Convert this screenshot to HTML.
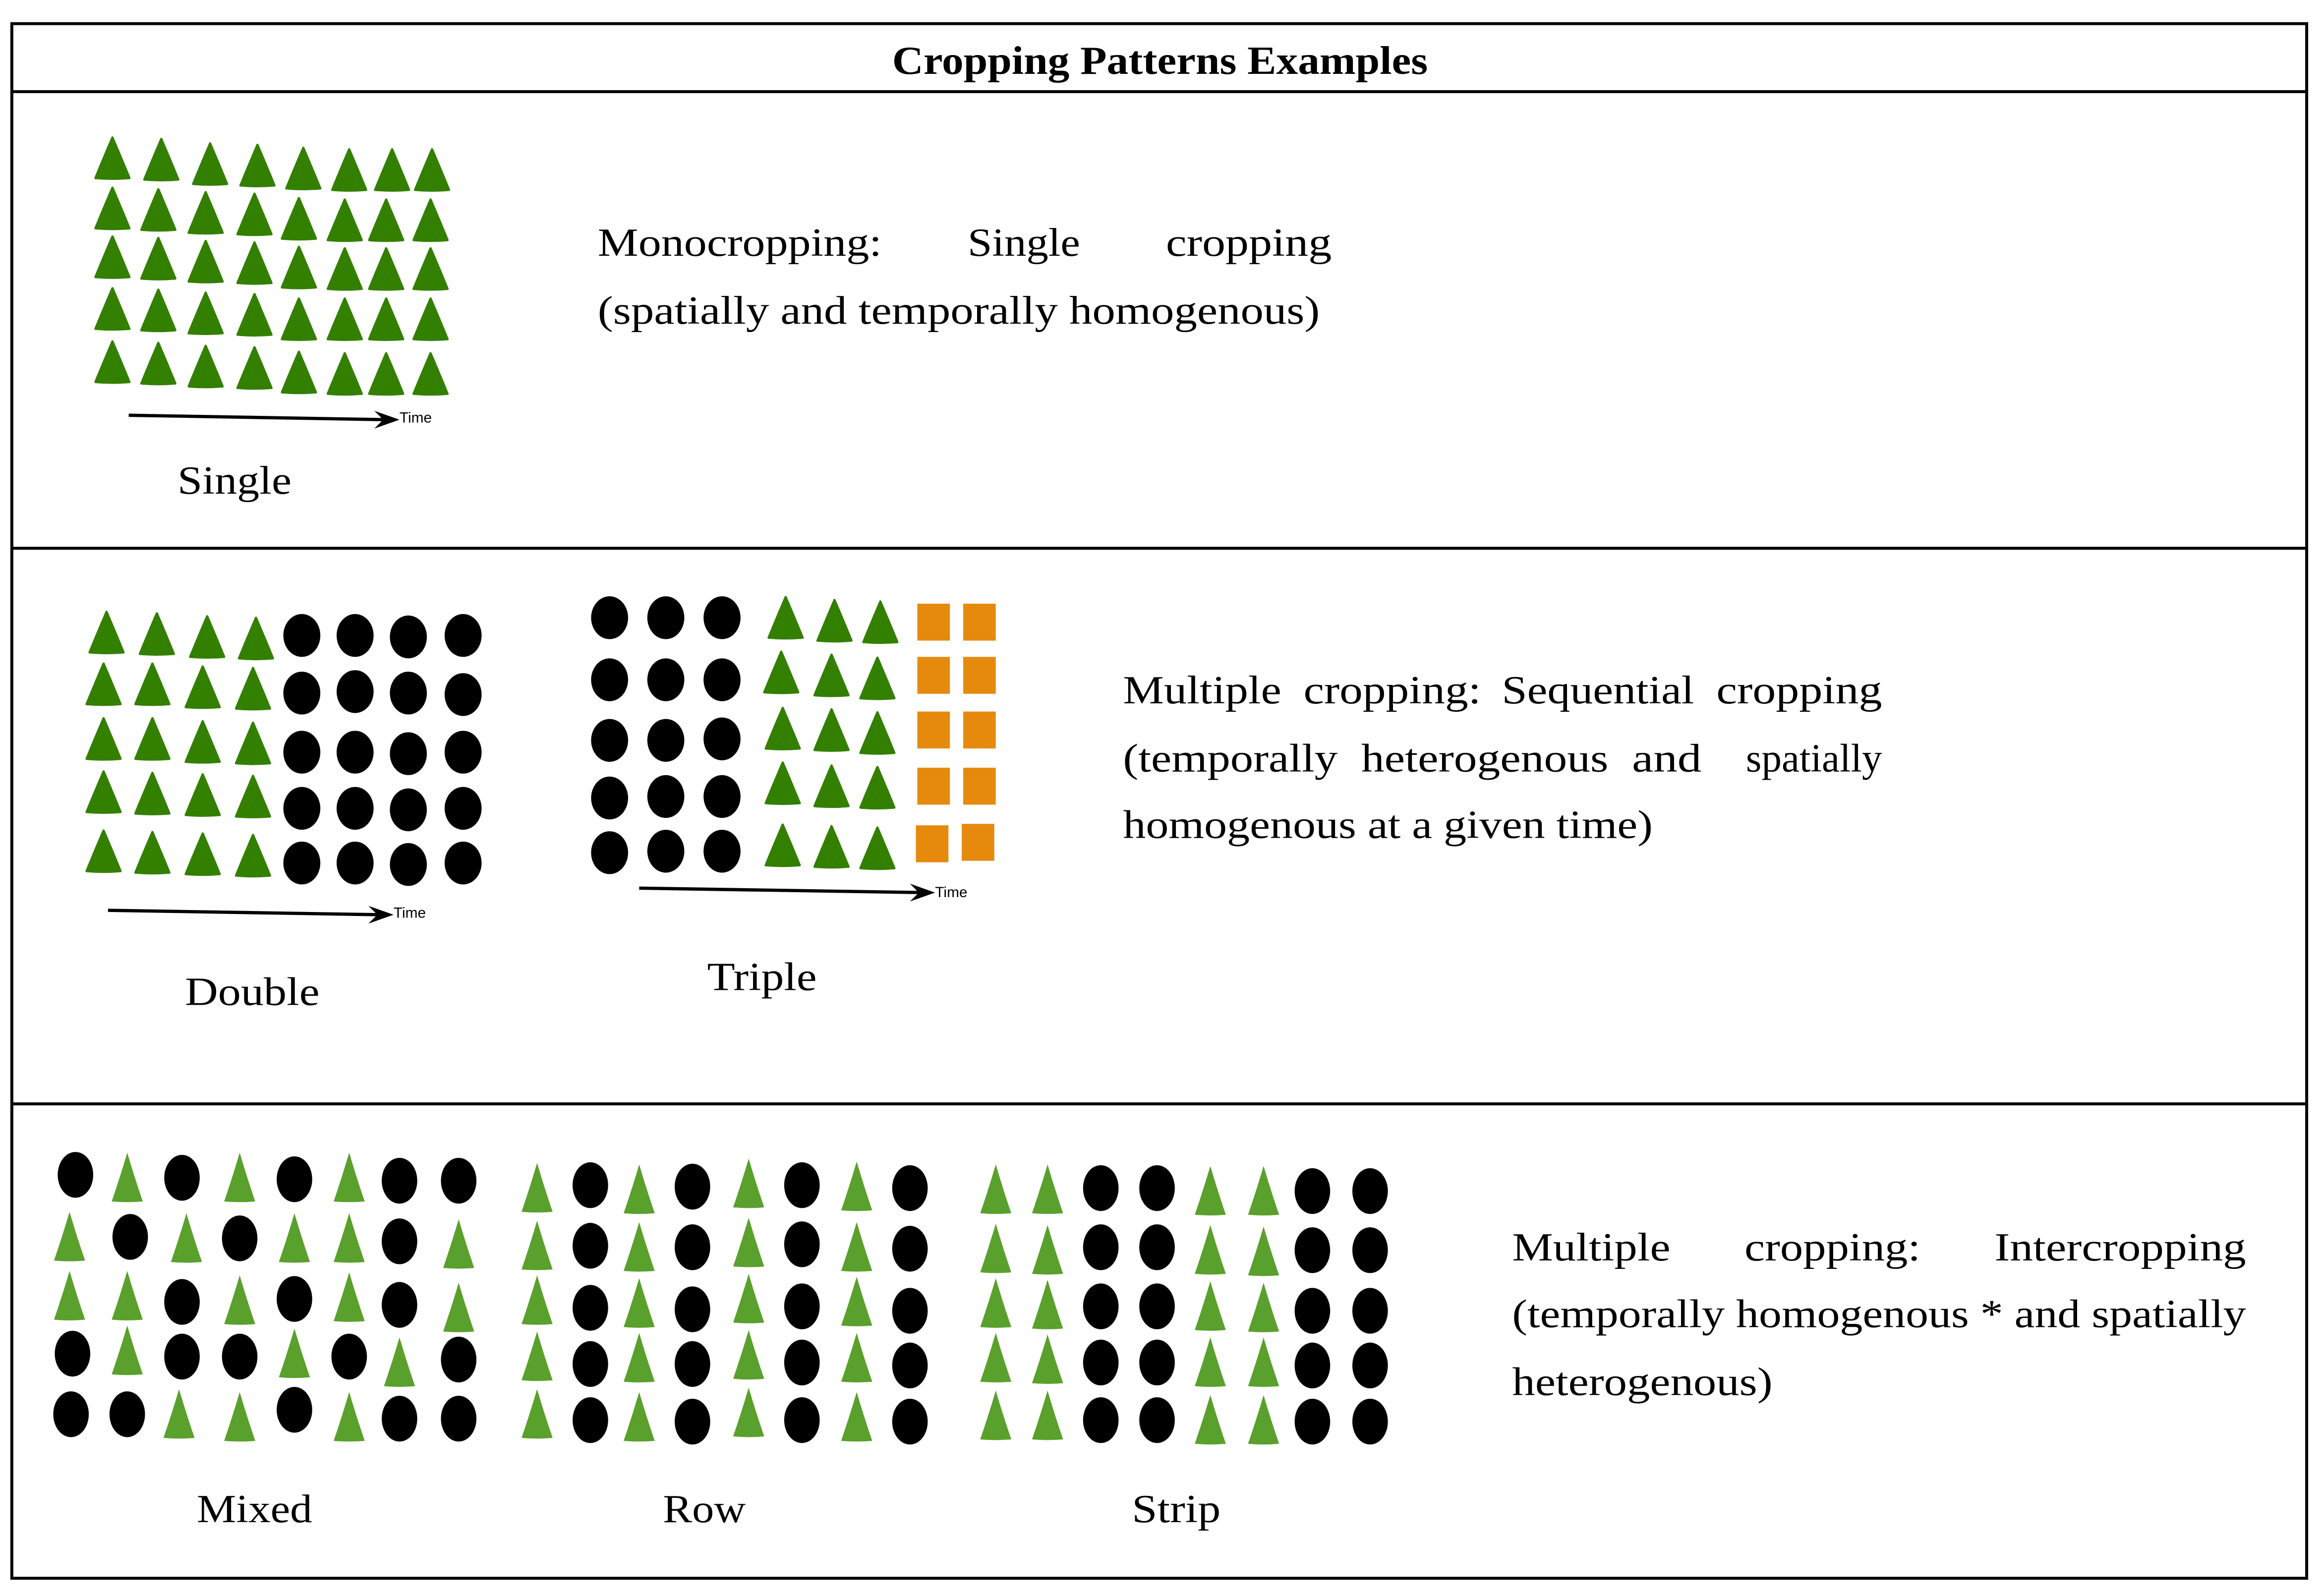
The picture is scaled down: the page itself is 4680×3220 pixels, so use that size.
<!DOCTYPE html>
<html><head><meta charset="utf-8"><style>html,body{margin:0;padding:0;background:#fff}svg{display:block}</style></head>
<body>
<svg width="4680" height="3220" viewBox="0 0 1568 1080" preserveAspectRatio="none" xmlns="http://www.w3.org/2000/svg" xmlns:xlink="http://www.w3.org/1999/xlink">
<defs>
<path id="t" d="M0,-14 Q-6,0 -11.5,13.5 Q0,14.5 11.5,13.5 Q6,0 0,-14Z" fill="#337f00" stroke="#337f00" stroke-width="1.5" stroke-linejoin="round"/>
<path id="l" d="M0,-17 Q-5,0 -10.5,16 Q0,17 10.5,16 Q5,0 0,-17Z" fill="#5aa02c"/>
<ellipse id="c" rx="12.5" ry="14.5" fill="#000"/>
<ellipse id="e" rx="12" ry="15.5" fill="#000"/>
<rect id="s" x="-11" y="-12.5" width="22" height="25" fill="#e68a0e"/>
</defs>
<rect x="8" y="16" width="1551" height="1052" fill="none" stroke="#000" stroke-width="2"/>
<line x1="8" y1="62" x2="1559" y2="62" stroke="#000" stroke-width="2"/>
<line x1="8" y1="371" x2="1559" y2="371" stroke="#000" stroke-width="2"/>
<line x1="8" y1="747" x2="1559" y2="747" stroke="#000" stroke-width="2"/>
<g font-family="Liberation Serif, serif" font-size="27" fill="#000">
<text x="603" y="50" font-weight="bold" font-size="27" textLength="362" lengthAdjust="spacingAndGlyphs">Cropping Patterns Examples</text>
<text x="404" y="173" textLength="192" lengthAdjust="spacingAndGlyphs">Monocropping:</text><text x="654" y="173" textLength="76" lengthAdjust="spacingAndGlyphs">Single</text><text x="788" y="173" textLength="112" lengthAdjust="spacingAndGlyphs">cropping</text>
<text x="404" y="219" textLength="488" lengthAdjust="spacingAndGlyphs">(spatially and temporally homogenous)</text>
<text x="759" y="476" textLength="107" lengthAdjust="spacingAndGlyphs">Multiple</text><text x="881" y="476" textLength="120" lengthAdjust="spacingAndGlyphs">cropping:</text><text x="1015" y="476" textLength="130" lengthAdjust="spacingAndGlyphs">Sequential</text><text x="1160" y="476" textLength="112" lengthAdjust="spacingAndGlyphs">cropping</text>
<text x="759" y="522" textLength="145" lengthAdjust="spacingAndGlyphs">(temporally</text><text x="920" y="522" textLength="167" lengthAdjust="spacingAndGlyphs">heterogenous</text><text x="1103" y="522" textLength="47" lengthAdjust="spacingAndGlyphs">and</text><text x="1180" y="522" textLength="92" lengthAdjust="spacingAndGlyphs">spatially</text>
<text x="759" y="567" textLength="358" lengthAdjust="spacingAndGlyphs">homogenous at a given time)</text>
<text x="1022" y="853" textLength="107" lengthAdjust="spacingAndGlyphs">Multiple</text><text x="1179" y="853" textLength="119" lengthAdjust="spacingAndGlyphs">cropping:</text><text x="1348" y="853" textLength="170" lengthAdjust="spacingAndGlyphs">Intercropping</text>
<text x="1022" y="898" textLength="496" lengthAdjust="spacingAndGlyphs">(temporally homogenous * and spatially</text>
<text x="1022" y="944" textLength="176" lengthAdjust="spacingAndGlyphs">heterogenous)</text>
<text x="120" y="334" textLength="77" lengthAdjust="spacingAndGlyphs">Single</text>
<text x="125" y="680" textLength="91" lengthAdjust="spacingAndGlyphs">Double</text>
<text x="478" y="670" textLength="74" lengthAdjust="spacingAndGlyphs">Triple</text>
<text x="133" y="1030" textLength="78" lengthAdjust="spacingAndGlyphs">Mixed</text>
<text x="448" y="1030" textLength="56" lengthAdjust="spacingAndGlyphs">Row</text>
<text x="765" y="1030" textLength="60" lengthAdjust="spacingAndGlyphs">Strip</text>
</g>
<g font-family="Liberation Sans, sans-serif" font-size="10" fill="#000">
<text x="270" y="286">Time</text><text x="266" y="621">Time</text><text x="632" y="607">Time</text>
</g>
<g stroke="#000" stroke-width="2.2">
<line x1="87" y1="281" x2="262" y2="284"/><line x1="73" y1="616" x2="258" y2="619"/><line x1="432" y1="601" x2="624" y2="604"/>
</g>
<g fill="#000">
<path d="M270,284 L253,278 L259,284 L253,290Z"/>
<path d="M266,619 L249,613 L255,619 L249,625Z"/>
<path d="M632,604 L615,598 L621,604 L615,610Z"/>
</g>
<g>
<use href="#t" x="76" y="107"/><use href="#t" x="109" y="108"/><use href="#t" x="142" y="111"/><use href="#t" x="174" y="112"/><use href="#t" x="205" y="114"/><use href="#t" x="236" y="115"/><use href="#t" x="265" y="115"/><use href="#t" x="292" y="115"/>
<use href="#t" x="76" y="141"/><use href="#t" x="107" y="142"/><use href="#t" x="139" y="144"/><use href="#t" x="172" y="145"/><use href="#t" x="202" y="148"/><use href="#t" x="233" y="149"/><use href="#t" x="261" y="149"/><use href="#t" x="291" y="149"/>
<use href="#t" x="76" y="174"/><use href="#t" x="107" y="175"/><use href="#t" x="139" y="177"/><use href="#t" x="172" y="178"/><use href="#t" x="202" y="181"/><use href="#t" x="233" y="182"/><use href="#t" x="261" y="182"/><use href="#t" x="291" y="182"/>
<use href="#t" x="76" y="209"/><use href="#t" x="107" y="210"/><use href="#t" x="139" y="212"/><use href="#t" x="172" y="213"/><use href="#t" x="202" y="216"/><use href="#t" x="233" y="216"/><use href="#t" x="261" y="216"/><use href="#t" x="291" y="216"/>
<use href="#t" x="76" y="245"/><use href="#t" x="107" y="246"/><use href="#t" x="139" y="248"/><use href="#t" x="172" y="249"/><use href="#t" x="202" y="252"/><use href="#t" x="233" y="253"/><use href="#t" x="261" y="253"/><use href="#t" x="291" y="253"/>
</g>
<g>
<use href="#t" x="72" y="428"/><use href="#t" x="106" y="429"/><use href="#t" x="140" y="431"/><use href="#t" x="173" y="432"/><use href="#c" x="204" y="430"/><use href="#c" x="240" y="430"/><use href="#c" x="276" y="431"/><use href="#c" x="313" y="430"/>
<use href="#t" x="70" y="463"/><use href="#t" x="103" y="463"/><use href="#t" x="137" y="465"/><use href="#t" x="171" y="466"/><use href="#c" x="204" y="469"/><use href="#c" x="240" y="468"/><use href="#c" x="276" y="469"/><use href="#c" x="313" y="470"/>
<use href="#t" x="70" y="500"/><use href="#t" x="103" y="500"/><use href="#t" x="137" y="502"/><use href="#t" x="171" y="503"/><use href="#c" x="204" y="509"/><use href="#c" x="240" y="509"/><use href="#c" x="276" y="510"/><use href="#c" x="313" y="509"/>
<use href="#t" x="70" y="536"/><use href="#t" x="103" y="537"/><use href="#t" x="137" y="538"/><use href="#t" x="171" y="539"/><use href="#c" x="204" y="547"/><use href="#c" x="240" y="547"/><use href="#c" x="276" y="548"/><use href="#c" x="313" y="547"/>
<use href="#t" x="70" y="576"/><use href="#t" x="103" y="577"/><use href="#t" x="137" y="578"/><use href="#t" x="171" y="579"/><use href="#c" x="204" y="584"/><use href="#c" x="240" y="584"/><use href="#c" x="276" y="585"/><use href="#c" x="313" y="584"/>
</g>
<g>
<use href="#c" x="412" y="418"/><use href="#c" x="450" y="418"/><use href="#c" x="488" y="418"/><use href="#t" x="531" y="418"/><use href="#t" x="564" y="420"/><use href="#t" x="595" y="421"/><use href="#s" x="631" y="421"/><use href="#s" x="662" y="421"/>
<use href="#c" x="412" y="460"/><use href="#c" x="450" y="460"/><use href="#c" x="488" y="460"/><use href="#t" x="528" y="455"/><use href="#t" x="562" y="457"/><use href="#t" x="593" y="459"/><use href="#s" x="631" y="457"/><use href="#s" x="662" y="457"/>
<use href="#c" x="412" y="501"/><use href="#c" x="450" y="501"/><use href="#c" x="488" y="500"/><use href="#t" x="529" y="493"/><use href="#t" x="562" y="494"/><use href="#t" x="593" y="496"/><use href="#s" x="631" y="494"/><use href="#s" x="662" y="494"/>
<use href="#c" x="412" y="540"/><use href="#c" x="450" y="539"/><use href="#c" x="488" y="539"/><use href="#t" x="529" y="530"/><use href="#t" x="562" y="532"/><use href="#t" x="593" y="533"/><use href="#s" x="631" y="532"/><use href="#s" x="662" y="532"/>
<use href="#c" x="412" y="577"/><use href="#c" x="450" y="576"/><use href="#c" x="488" y="576"/><use href="#t" x="529" y="572"/><use href="#t" x="562" y="573"/><use href="#t" x="593" y="574"/><use href="#s" x="630" y="571"/><use href="#s" x="661" y="570"/>
</g>
<g>
<use href="#e" x="51" y="795"/><use href="#l" x="86" y="797"/><use href="#e" x="123" y="797"/><use href="#l" x="162" y="797"/><use href="#e" x="199" y="798"/><use href="#l" x="236" y="797"/><use href="#e" x="270" y="799"/><use href="#e" x="310" y="799"/>
<use href="#l" x="47" y="837"/><use href="#e" x="88" y="837"/><use href="#l" x="126" y="838"/><use href="#e" x="162" y="838"/><use href="#l" x="199" y="838"/><use href="#l" x="236" y="838"/><use href="#e" x="270" y="840"/><use href="#l" x="310" y="842"/>
<use href="#l" x="47" y="877"/><use href="#l" x="86" y="877"/><use href="#e" x="123" y="881"/><use href="#l" x="162" y="880"/><use href="#e" x="199" y="879"/><use href="#l" x="236" y="878"/><use href="#e" x="270" y="883"/><use href="#l" x="310" y="885"/>
<use href="#e" x="49" y="916"/><use href="#l" x="86" y="914"/><use href="#e" x="123" y="918"/><use href="#e" x="162" y="918"/><use href="#l" x="199" y="916"/><use href="#e" x="236" y="918"/><use href="#l" x="270" y="922"/><use href="#e" x="310" y="920"/>
<use href="#e" x="48" y="957"/><use href="#e" x="86" y="957"/><use href="#l" x="121" y="957"/><use href="#l" x="162" y="959"/><use href="#e" x="199" y="954"/><use href="#l" x="236" y="959"/><use href="#e" x="270" y="960"/><use href="#e" x="310" y="960"/>
</g>
<g>
<use href="#l" x="363" y="804"/><use href="#e" x="399" y="802"/><use href="#l" x="432" y="805"/><use href="#e" x="468" y="803"/><use href="#l" x="506" y="801"/><use href="#e" x="542" y="802"/><use href="#l" x="579" y="803"/><use href="#e" x="615" y="804"/>
<use href="#l" x="363" y="843"/><use href="#e" x="399" y="843"/><use href="#l" x="432" y="844"/><use href="#e" x="468" y="844"/><use href="#l" x="506" y="841"/><use href="#e" x="542" y="842"/><use href="#l" x="579" y="844"/><use href="#e" x="615" y="845"/>
<use href="#l" x="363" y="880"/><use href="#e" x="399" y="885"/><use href="#l" x="432" y="882"/><use href="#e" x="468" y="886"/><use href="#l" x="506" y="879"/><use href="#e" x="542" y="884"/><use href="#l" x="579" y="881"/><use href="#e" x="615" y="887"/>
<use href="#l" x="363" y="918"/><use href="#e" x="399" y="923"/><use href="#l" x="432" y="919"/><use href="#e" x="468" y="923"/><use href="#l" x="506" y="917"/><use href="#e" x="542" y="922"/><use href="#l" x="579" y="919"/><use href="#e" x="615" y="924"/>
<use href="#l" x="363" y="957"/><use href="#e" x="399" y="961"/><use href="#l" x="432" y="959"/><use href="#e" x="468" y="962"/><use href="#l" x="506" y="956"/><use href="#e" x="542" y="961"/><use href="#l" x="579" y="959"/><use href="#e" x="615" y="962"/>
</g>
<g>
<use href="#l" x="673" y="805"/><use href="#l" x="708" y="805"/><use href="#e" x="744" y="804"/><use href="#e" x="782" y="804"/><use href="#l" x="818" y="806"/><use href="#l" x="854" y="806"/><use href="#e" x="887" y="806"/><use href="#e" x="926" y="806"/>
<use href="#l" x="673" y="845"/><use href="#l" x="708" y="846"/><use href="#e" x="744" y="844"/><use href="#e" x="782" y="844"/><use href="#l" x="818" y="846"/><use href="#l" x="854" y="847"/><use href="#e" x="887" y="846"/><use href="#e" x="926" y="846"/>
<use href="#l" x="673" y="882"/><use href="#l" x="708" y="883"/><use href="#e" x="744" y="884"/><use href="#e" x="782" y="884"/><use href="#l" x="818" y="884"/><use href="#l" x="854" y="885"/><use href="#e" x="887" y="887"/><use href="#e" x="926" y="887"/>
<use href="#l" x="673" y="919"/><use href="#l" x="708" y="920"/><use href="#e" x="744" y="922"/><use href="#e" x="782" y="922"/><use href="#l" x="818" y="922"/><use href="#l" x="854" y="922"/><use href="#e" x="887" y="924"/><use href="#e" x="926" y="924"/>
<use href="#l" x="673" y="958"/><use href="#l" x="708" y="958"/><use href="#e" x="744" y="961"/><use href="#e" x="782" y="961"/><use href="#l" x="818" y="961"/><use href="#l" x="854" y="961"/><use href="#e" x="887" y="962"/><use href="#e" x="926" y="962"/>
</g>
</svg>
</body></html>
